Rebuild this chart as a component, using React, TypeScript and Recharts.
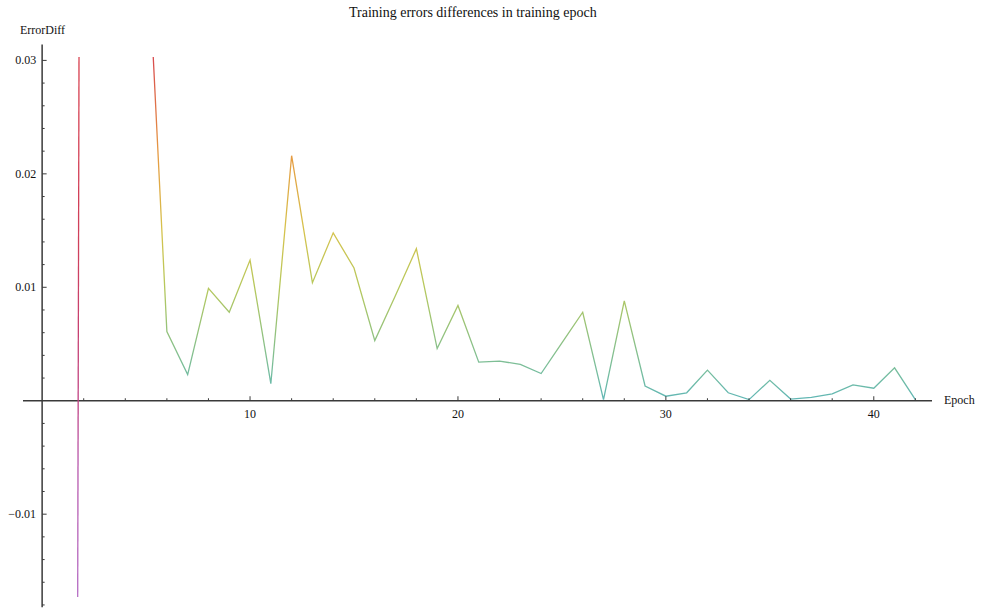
import React from "react";
import { LineChart, Line, XAxis, YAxis, ReferenceLine, ReferenceDot } from "recharts";

const epochs = [1, 2, 3, 4, 5, 6, 7, 8, 9, 10, 11, 12, 13, 14, 15, 16, 17, 18, 19, 20, 21, 22, 23, 24, 25, 26, 27, 28, 29, 30, 31, 32, 33, 34, 35, 36, 37, 38, 39, 40, 41, 42];
const errorDiff = [
  -0.55, 0.2, 0.11, 0.065, 0.043, 0.0061, 0.0023, 0.0099, 0.0078, 0.0124,
  0.0015, 0.0216, 0.0104, 0.0148, 0.0117, 0.0053, 0.0093, 0.0134, 0.0046, 0.0084,
  0.0034, 0.0035, 0.0032, 0.0024, 0.0051, 0.0078, 0.0001, 0.0088, 0.0013, 0.0004,
  0.0007, 0.0027, 0.0007, 0.0001, 0.0018, 0.00015, 0.0003, 0.0006, 0.0014, 0.0011,
  0.0029, 0.0001,
];
const xTicks = [2, 4, 6, 8, 10, 12, 14, 16, 18, 20, 22, 24, 26, 28, 30, 32, 34, 36, 38, 40, 42];
const xMajor = [10, 20, 30, 40];
const yTicks = [-0.018, -0.016, -0.014, -0.012, -0.01, -0.008, -0.006, -0.004, -0.002, 0.002, 0.004, 0.006, 0.008, 0.01, 0.012, 0.014, 0.016, 0.018, 0.02, 0.022, 0.024, 0.026, 0.028, 0.03];
const yMajor = [-0.01, 0.01, 0.02, 0.03];
const yLabels = ["\u22120.01", "0.01", "0.02", "0.03"];

const title = "Training errors differences in training epoch";
const xLabel = "Epoch";
const yLabel = "ErrorDiff";

const data = epochs.map((e, i) => ({
  epoch: e,
  early: i <= 1 ? errorDiff[i] : null,
  main: i >= 1 ? errorDiff[i] : null,
}));

const FONT = "'Liberation Serif', 'DejaVu Serif', serif";
const AXIS = "#3a3a3a";

const renderXTick = (v: number) => (p: any) => {
  const major = xMajor.includes(v);
  return (
    <g>
      <line x1={p.cx} x2={p.cx} y1={p.cy} y2={p.cy - (major ? 4.5 : 2.5)} stroke={AXIS} strokeWidth={1} />
      {major && (
        <text x={p.cx} y={p.cy + 17} textAnchor="middle" fontSize={12} fontFamily={FONT} fill="#111">
          {v}
        </text>
      )}
    </g>
  );
};

const renderYTick = (v: number) => (p: any) => {
  const mi = yMajor.indexOf(v);
  const major = mi >= 0;
  return (
    <g>
      <line x1={p.cx} x2={p.cx + (major ? 4.5 : 2.5)} y1={p.cy} y2={p.cy} stroke={AXIS} strokeWidth={1} />
      {major && (
        <text x={p.cx - 6} y={p.cy + 4} textAnchor="end" fontSize={12} fontFamily={FONT} fill="#111">
          {yLabels[mi]}
        </text>
      )}
    </g>
  );
};

export default function App() {
  return (
    <div style={{ position: "absolute", left: 0, top: 0, width: 990, height: 610, background: "#fff" }}>
      <div style={{ position: "absolute", left: 0, width: 990, top: 5, textAlign: "center", fontFamily: FONT, fontSize: 14, color: "#111", paddingLeft: 0 }}>
        <span style={{ position: "absolute", left: 349, whiteSpace: "nowrap" }}>{title}</span>
      </div>
      <div style={{ position: "absolute", left: 20, top: 23, fontFamily: FONT, fontSize: 12, color: "#111", whiteSpace: "nowrap" }}>{yLabel}</div>
      <div style={{ position: "absolute", left: 944, top: 393, fontFamily: FONT, fontSize: 12, color: "#111", whiteSpace: "nowrap" }}>{xLabel}</div>
      <LineChart width={990} height={610} data={data} margin={{ top: 57, right: 58, bottom: 13, left: 23 }}>
        <defs>
          <linearGradient id="gMain" gradientUnits="userSpaceOnUse" x1="0" y1="57" x2="0" y2="401">
            <stop offset="0" stopColor="#d84a4e" />
            <stop offset="0.28" stopColor="#e69a42" />
            <stop offset="0.5" stopColor="#d6c24c" />
            <stop offset="0.67" stopColor="#b6c85c" />
            <stop offset="0.8" stopColor="#94c27c" />
            <stop offset="0.93" stopColor="#72bca2" />
            <stop offset="1" stopColor="#5fb6b6" />
          </linearGradient>
          <linearGradient id="gEarly" gradientUnits="userSpaceOnUse" x1="0" y1="57" x2="0" y2="597">
            <stop offset="0" stopColor="#d8404e" />
            <stop offset="0.35" stopColor="#d0405c" />
            <stop offset="0.64" stopColor="#c04284" />
            <stop offset="0.75" stopColor="#b858ac" />
            <stop offset="1" stopColor="#b46cc4" />
          </linearGradient>
        </defs>
        <XAxis dataKey="epoch" type="number" domain={[-0.92, 42.8]} hide allowDataOverflow />
        <YAxis type="number" domain={[-0.0173, 0.0303]} hide allowDataOverflow />
        <ReferenceLine y={0} stroke={AXIS} strokeWidth={1.5} ifOverflow="visible" />
        <ReferenceLine
          segment={[{ x: 0, y: -0.0182 }, { x: 0, y: 0.0314 }]}
          stroke={AXIS}
          strokeWidth={1.5}
          ifOverflow="visible"
        />
        {xTicks.map((v) => (
          <ReferenceDot key={"x" + v} x={v} y={0} r={0} ifOverflow="visible" shape={renderXTick(v)} />
        ))}
        {yTicks.map((v) => (
          <ReferenceDot key={"y" + v} x={0} y={v} r={0} ifOverflow="visible" shape={renderYTick(v)} />
        ))}
        <Line dataKey="early" stroke="url(#gEarly)" strokeWidth={1.3} dot={false} isAnimationActive={false} connectNulls={false} />
        <Line dataKey="main" stroke="url(#gMain)" strokeWidth={1.3} dot={false} isAnimationActive={false} connectNulls={false} />
      </LineChart>
    </div>
  );
}
